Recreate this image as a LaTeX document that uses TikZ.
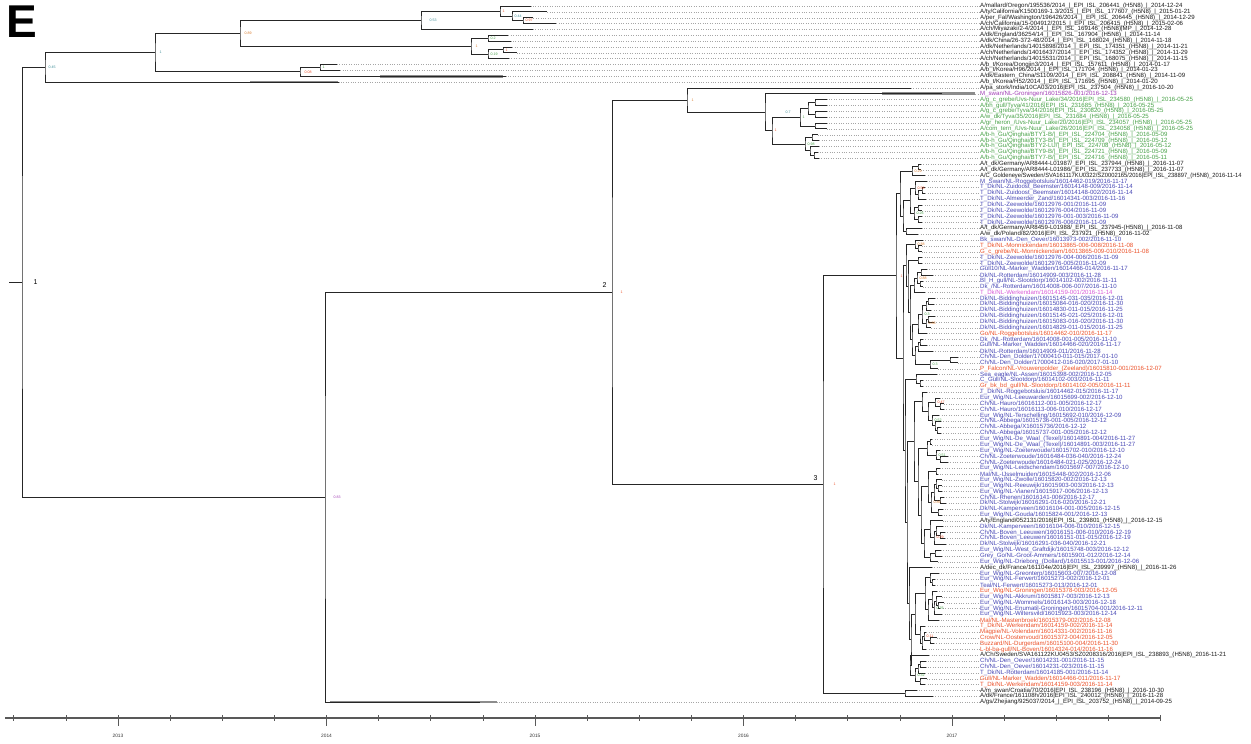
\documentclass[tikz,border=0pt]{standalone}
\usepackage{fontspec}
\usepackage{graphicx}
\setmainfont{Liberation Sans}
\usetikzlibrary{calc}
\definecolor{cblk}{RGB}{25,25,25}
\definecolor{cgrn}{RGB}{70,160,70}
\definecolor{cblu}{RGB}{70,70,180}
\definecolor{cred}{RGB}{235,80,40}
\definecolor{cmag}{RGB}{160,60,180}
\definecolor{cpnk}{RGB}{215,90,215}
\definecolor{cteal}{RGB}{60,140,150}
\definecolor{cora}{RGB}{215,120,40}
\newcommand\lfont{\fontsize{6.1}{6.5}\selectfont}
\newcommand\pfont{\fontsize{3.6}{4}\selectfont}
\tikzset{
  br/.style={line width=0.8pt, draw=black!85},
  lead/.style={line width=0.4pt, draw=black!35, dotted},
  lab/.style={anchor=west, font=\lfont, inner sep=0pt},
  pp/.style={font=\pfont, inner sep=0.4pt},
  hpd/.style={line width=2.6pt, draw=black!45},
  axisline/.style={line width=1.2pt, draw=black!65},
  tickline/.style={line width=0.6pt, draw=black!65},
}
\newcommand\lf[4]{%
  \coordinate (L#1) at (#2,{6+(#1-1)*5.85});
  \node[lab,text=#3] (T#1) at (980,{6+(#1-1)*5.85}) {#4};
  \draw[lead] (L#1) -- (T#1.west);
}
\newcommand\bn[4]{%
  \path let \p1=(#3), \p2=(#4) in ({#2pt},{0.5*(\y1+\y2)}) coordinate (#1);
  \draw[br] (#3) -| (#1) |- (#4);
}
\begin{document}
\begin{tikzpicture}[x=1pt,y=-1pt]
\useasboundingbox (0pt,0pt) rectangle (1251pt,-744pt);
\node[font=\fontsize{46}{46}\bfseries\selectfont, inner sep=0pt] (E) at (22,22) {E};
% leaves
\lf{1}{530.5}{cblk}{A/mallard/Oregon/195536/2014\_|\_EPI\_ISL\_206441\_(H5N8)\_|\_2014-12-24}
\lf{2}{547.1}{cblk}{A/ty/California/K1500169-1.3/2015\_|\_EPI\_ISL\_177607\_(H5N8)\_|\_2015-01-21}
\lf{3}{533.4}{cblk}{A/per\_Fal/Washington/196426/2014\_|\_EPI\_ISL\_206445\_(H5N8)\_|\_2014-12-29}
\lf{4}{556.1}{cblk}{A/ch/California/15-004912/2015\_|\_EPI\_ISL\_206415\_(H5N8)\_|\_2015-02-06}
\lf{5}{532.8}{cblk}{A/ch/Miyazaki/2-4/2014\_|\_EPI\_ISL\_169146\_(H5N8)|MP\_|\_2014-12-28}
\lf{6}{508.3}{cblk}{A/dk/England/36254/14\_|\_EPI\_ISL\_167904\_(H5N8)\_|\_2014-11-14}
\lf{7}{510.6}{cblk}{A/dk/China/26-372-48/2014\_|\_EPI\_ISL\_168024\_(H5N8)\_|\_2014-11-18}
\lf{8}{512.3}{cblk}{A/dk/Netherlands/14015898/2014\_|\_EPI\_ISL\_174351\_(H5N8)\_|\_2014-11-21}
\lf{9}{516.9}{cblk}{A/ch/Netherlands/14016437/2014\_|\_EPI\_ISL\_174352\_(H5N8)\_|\_2014-11-29}
\lf{10}{508.9}{cblk}{A/ch/Netherlands/14015531/2014\_|\_EPI\_ISL\_168075\_(H5N8)\_|\_2014-11-15}
\lf{11}{336.8}{cblk}{A/b\_t/Korea/Dongjin3/2014\_|\_EPI\_ISL\_157611\_(H5N8)\_|\_2014-01-17}
\lf{12}{340.1}{cblk}{A/b\_t/Korea/H96/2014\_|\_EPI\_ISL\_171704\_(H5N8)\_|\_2014-01-23}
\lf{13}{505.6}{cblk}{A/dk/Eastern\_China/S1109/2014\_|\_EPI\_ISL\_208841\_(H5N8)\_|\_2014-11-09}
\lf{14}{338.5}{cblk}{A/b\_t/Korea/H52/2014\_|\_EPI\_ISL\_171695\_(H5N8)\_|\_2014-01-20}
\lf{15}{910.9}{cblk}{A/pa\_stork/India/10CA03/2016|EPI\_ISL\_237504\_(H5N8)\_|\_2016-10-20}
\lf{16}{941.5}{cmag}{M\_swan/NL-Groningen/16015826-001/2016-12-13}
\lf{17}{826.6}{cgrn}{A/g\_c\_grebe/Uvs-Nuur\_Lake/34/2016|EPI\_ISL\_234580\_(H5N8)\_|\_2016-05-25}
\lf{18}{826.6}{cgrn}{A/bh\_gull/Tyva/41/2016|EPI\_ISL\_231685\_(H5N8)\_|\_2016-05-25}
\lf{19}{826.6}{cgrn}{A/g\_c\_grebe/Tyva/34/2016|EPI\_ISL\_230820\_(H5N8)\_|\_2016-05-25}
\lf{20}{826.6}{cgrn}{A/w\_dk/Tyva/35/2016|EPI\_ISL\_231684\_(H5N8)\_|\_2016-05-25}
\lf{21}{826.6}{cgrn}{A/gr\_heron\_/Uvs-Nuur\_Lake/20/2016|EPI\_ISL\_234057\_(H5N8)\_|\_2016-05-25}
\lf{22}{826.6}{cgrn}{A/com\_tern\_/Uvs-Nuur\_Lake/26/2016|EPI\_ISL\_234058\_(H5N8)\_|\_2016-05-25}
\lf{23}{817.5}{cgrn}{A/b-h\_Gu/Qinghai/BTY1-B/|\_EPI\_ISL\_224704\_(H5N8)\_|\_2016-05-09}
\lf{24}{819.2}{cgrn}{A/b-h\_Gu/Qinghai/BTY3-B/|\_EPI\_ISL\_224709\_(H5N8)\_|\_2016-05-12}
\lf{25}{819.2}{cgrn}{A/b-h\_Gu/Qinghai/BTY2-LU/|\_EPI\_ISL\_224708\_(H5N8)\_|\_2016-05-12}
\lf{26}{817.5}{cgrn}{A/b-h\_Gu/Qinghai/BTY9-B/|\_EPI\_ISL\_224721\_(H5N8)\_|\_2016-05-09}
\lf{27}{818.7}{cgrn}{A/b-h\_Gu/Qinghai/BTY7-B/|\_EPI\_ISL\_224716\_(H5N8)\_|\_2016-05-11}
\lf{28}{921.0}{cblk}{A/t\_dk/Germany/AR8444-L01987/\_EPI\_ISL\_237944\_(H5N8)\_|\_2016-11-07}
\lf{29}{921.0}{cblk}{A/t\_dk/Germany/AR8444-L01986/\_EPI\_ISL\_237733\_(H5N8)\_|\_2016-11-07}
\lf{30}{925.1}{cblk}{\scalebox{0.95}[1]{A/C\_Goldeneye/Sweden/SVA161117KU0322/SZ0002165/2016|EPI\_ISL\_238897\_(H5N8)\_2016-11-14}}
\lf{31}{926.8}{cblu}{M\_Swan/NL-Roggebotsluis/16014462-019/2016-11-17}
\lf{32}{925.1}{cblu}{T\_Dk/NL-Zuidoost\_Beemster/16014148-009/2016-11-14}
\lf{33}{925.1}{cblu}{T\_Dk/NL-Zuidoost\_Beemster/16014148-002/2016-11-14}
\lf{34}{926.2}{cblu}{T\_Dk/NL-Almeerder\_Zand/16014341-003/2016-11-16}
\lf{35}{922.2}{cblu}{T\_Dk/NL-Zeewolde/16012976-001/2016-11-09}
\lf{36}{922.2}{cblu}{T\_Dk/NL-Zeewolde/16012976-004/2016-11-09}
\lf{37}{922.2}{cblu}{T\_Dk/NL-Zeewolde/16012976-001-003/2016-11-09}
\lf{38}{922.2}{cblu}{T\_Dk/NL-Zeewolde/16012976-006/2016-11-09}
\lf{39}{921.6}{cblk}{A/t\_dk/Germany/AR8459-L01988/\_EPI\_ISL\_237945-(H5N8)\_|\_2016-11-08}
\lf{40}{918.3}{cblk}{A/w\_dk/Poland/82/2016|EPI\_ISL\_237921\_(H5N8)\_2016-11-02}
\lf{41}{922.8}{cblu}{Bk\_swan/NL-Den\_Oever/16013973-002/2016-11-10}
\lf{42}{921.6}{cred}{T\_Dk/NL-Monnickendam/16013865-006-008/2016-11-08}
\lf{43}{921.6}{cred}{G\_c\_grebe/NL-Monnickendam/16013865-009-010/2016-11-08}
\lf{44}{922.2}{cblu}{T\_Dk/NL-Zeewolde/16012976-004-006/2016-11-09}
\lf{45}{922.2}{cblu}{T\_Dk/NL-Zeewolde/16012976-005/2016-11-09}
\lf{46}{926.8}{cblu}{Gull10/NL-Marker\_Wadden/16014466-014/2016-11-17}
\lf{47}{933.0}{cblu}{Dk/NL-Rotterdam/16014909-003/2016-11-28}
\lf{48}{923.3}{cblu}{Bl\_H\_gull/NL-Slootdorp/16014102-002/2016-11-11}
\lf{49}{922.8}{cblu}{Dk\_/NL-Rotterdam/16014008-006-007/2016-11-10}
\lf{50}{925.1}{cpnk}{T\_Dk/NL-Werkendam/16014159-001/2016-11-14}
\lf{51}{934.7}{cblu}{Dk/NL-Biddinghuizen/16015145-031-035/2016-12-01}
\lf{52}{934.0}{cblu}{Dk/NL-Biddinghuizen/16015084-016-020/2016-11-30}
\lf{53}{931.4}{cblu}{Dk/NL-Biddinghuizen/16014830-011-015/2016-11-25}
\lf{54}{934.7}{cblu}{Dk/NL-Biddinghuizen/16015145-021-025/2016-12-01}
\lf{55}{934.0}{cblu}{Dk/NL-Biddinghuizen/16015083-016-020/2016-11-30}
\lf{56}{931.4}{cblu}{Dk/NL-Biddinghuizen/16014829-011-015/2016-11-25}
\lf{57}{926.8}{cred}{Go/NL-Roggebotsluis/16014462-010/2016-11-17}
\lf{58}{922.8}{cblu}{Dk\_/NL-Rotterdam/16014008-001-005/2016-11-10}
\lf{59}{926.8}{cblu}{Gull/NL-Marker\_Wadden/16014466-020/2016-11-17}
\lf{60}{933.0}{cblu}{Dk/NL-Rotterdam/16014909-011/2016-11-28}
\lf{61}{957.6}{cblu}{Ch/NL-Den\_Dolder/17000410-011-015/2017-01-10}
\lf{62}{957.6}{cblu}{Ch/NL-Den\_Dolder/17000412-016-020/2017-01-10}
\lf{63}{938.0}{cred}{P\_Falcon/NL-Vrouwenpolder\_(Zeeland)/16015810-001/2016-12-07}
\lf{64}{937.0}{cblu}{Sea\_eagle/NL-Assen/16015398-002/2016-12-05}
\lf{65}{923.3}{cblu}{C\_Gull/NL-Slootdorp/16014102-003/2016-11-11}
\lf{66}{923.3}{cred}{Gr\_bk\_bd\_gull/NL-Slootdorp/16014102-005/2016-11-11}
\lf{67}{926.8}{cblu}{T\_Dk/NL-Roggebotsluis/16014462-015/2016-11-17}
\lf{68}{939.8}{cblu}{Eur\_Wig/NL-Leeuwarden/16015699-002/2016-12-10}
\lf{69}{943.8}{cblu}{Ch/NL-Hauro/16016112-001-005/2016-12-17}
\lf{70}{943.8}{cblu}{Ch/NL-Hauro/16016113-006-010/2016-12-17}
\lf{71}{939.2}{cblu}{Eur\_Wig/NL-Terschelling/16015692-010/2016-12-09}
\lf{72}{940.9}{cblu}{Ch/NL-Abbega/16015736-001-005/2016-12-12}
\lf{73}{940.9}{cblu}{Ch/NL-Abbega/X16015736/2016-12-12}
\lf{74}{940.9}{cblu}{Ch/NL-Abbega/16015737-001-005/2016-12-12}
\lf{75}{932.4}{cblu}{Eur\_Wig/NL-De\_Waal\_(Texel)/16014891-004/2016-11-27}
\lf{76}{932.4}{cblu}{Eur\_Wig/NL-De\_Waal\_(Texel)/16014891-003/2016-11-27}
\lf{77}{939.8}{cblu}{Eur\_Wig/NL-Zoeterwoude/16015702-010/2016-12-10}
\lf{78}{947.8}{cblu}{Ch/NL-Zoeterwoude/16016484-036-040/2016-12-24}
\lf{79}{947.8}{cblu}{Ch/NL-Zoeterwoude/16016484-021-025/2016-12-24}
\lf{80}{939.8}{cblu}{Eur\_Wig/NL-Leidschendam/16015697-007/2016-12-10}
\lf{81}{937.6}{cblu}{Mal/NL-IJsselmuiden/16015448-002/2016-12-06}
\lf{82}{941.5}{cblu}{Eur\_Wig/NL-Zwolle/16015820-002/2016-12-13}
\lf{83}{941.5}{cblu}{Eur\_Wig/NL-Reeuwijk/16015903-003/2016-12-13}
\lf{84}{941.5}{cblu}{Eur\_Wig/NL-Vianen/16015917-006/2016-12-13}
\lf{85}{943.8}{cblu}{Ch/NL-Rhenen/16016141-006/2016-12-17}
\lf{86}{946.1}{cblu}{Dk/NL-Stolwijk/16016291-016-020/2016-12-21}
\lf{87}{942.5}{cblu}{Dk/NL-Kamperveen/16016104-001-005/2016-12-15}
\lf{88}{941.5}{cblu}{Eur\_Wig/NL-Gouda/16015824-001/2016-12-13}
\lf{89}{942.5}{cblk}{A/ty/England/052131/2016|EPI\_ISL\_239801\_(H5N8)\_|\_2016-12-15}
\lf{90}{942.5}{cblu}{Dk/NL-Kamperveen/16016104-006-010/2016-12-15}
\lf{91}{944.9}{cblu}{Ch/NL-Boven\_Leeuwen/16016151-006-010/2016-12-19}
\lf{92}{944.9}{cblu}{Ch/NL-Boven\_Leeuwen/16016151-011-015/2016-12-19}
\lf{93}{946.1}{cblu}{Dk/NL-Stolwijk/16016291-036-040/2016-12-21}
\lf{94}{940.9}{cblu}{Eur\_Wig/NL-West\_Graftdijk/16015748-003/2016-12-12}
\lf{95}{942.1}{cblu}{Grey\_Go/NL-Groot-Ammers/16015901-012/2016-12-14}
\lf{96}{937.6}{cblu}{Eur\_Wig/NL-Drieborg\_(Dollard)/16015513-001/2016-12-06}
\lf{97}{931.8}{cblk}{A/dec\_dk/France/161104e/2016|EPI\_ISL\_239997\_(H5N8)\_|\_2016-11-26}
\lf{98}{938.6}{cblu}{Eur\_Wig/NL-Greonterp/16015603-007/2016-12-08}
\lf{99}{934.7}{cblu}{Eur\_Wig/NL-Ferwert/16015273-002/2016-12-01}
\lf{100}{934.7}{cblu}{Teal/NL-Ferwert/16015273-013/2016-12-01}
\lf{101}{937.0}{cred}{Eur\_Wig/NL-Groningen/16015378-003/2016-12-05}
\lf{102}{941.5}{cblu}{Eur\_Wig/NL-Akkrum/16015817-003/2016-12-13}
\lf{103}{944.2}{cblu}{Eur\_Wig/NL-Wommels/16016143-003/2016-12-18}
\lf{104}{940.3}{cblu}{Eur\_Wig/NL-Enumatil-Groningen/16015704-001/2016-12-11}
\lf{105}{942.1}{cblu}{Eur\_Wig/NL-Wiltersvild/16015923-003/2016-12-14}
\lf{106}{938.6}{cred}{Mal/NL-Mastenbroek/16015379-002/2016-12-08}
\lf{107}{925.1}{cred}{T\_Dk/NL-Werkendam/16014159-002/2016-11-14}
\lf{108}{926.2}{cred}{Magpie/NL-Volendam/16014331-002/2016-11-16}
\lf{109}{937.0}{cred}{Crow/NL-Oostenvoud/16015372-004/2016-12-05}
\lf{110}{934.0}{cred}{Buzzard/NL-Durgerdam/16015100-004/2016-11-30}
\lf{111}{926.2}{cred}{L-bl-ba-gull/NL-Boven/16014324-014/2016-11-16}
\lf{112}{929.1}{cblk}{A/Ch/Sweden/SVA161122KU0453/SZ0208316/2016|EPI\_ISL\_238893\_(H5N8)\_2016-11-21}
\lf{113}{925.6}{cblu}{Ch/NL-Den\_Oever/16014231-001/2016-11-15}
\lf{114}{925.6}{cblu}{Ch/NL-Den\_Oever/16014231-023/2016-11-15}
\lf{115}{925.1}{cblu}{T\_Dk/NL-Rotterdam/16014185-001/2016-11-14}
\lf{116}{926.8}{cred}{Gull/NL-Marker\_Wadden/16014466-011/2016-11-17}
\lf{117}{925.1}{cred}{T\_Dk/NL-Werkendam/16014159-003/2016-11-14}
\lf{118}{916.6}{cblk}{A/m\_swan/Croatia/70/2016|EPI\_ISL\_238196\_(H5N8)\_|\_2016-10-30}
\lf{119}{933.0}{cblk}{A/dk/France/161108h/2016|EPI\_ISL\_240012\_(H5N8)\_|\_2016-11-28}
\lf{120}{479.7}{cblk}{A/gs/Zhejiang/925037/2014\_|\_EPI\_ISL\_203752\_(H5N8)\_|\_2014-09-25}
% uncertainty bars
\draw[hpd] (330,{6+119*5.85}) -- (497,{6+119*5.85});
\draw[hpd] (380,{6+12*5.85}) -- (503,{6+12*5.85});
\draw[hpd] (250,{6+13*5.85}) -- (338,{6+13*5.85});
\draw[hpd] (882,{6+15*5.85}) -- (975,{6+15*5.85});
% top clade
\bn{nA3}{523}{L3}{L4}
\bn{nA2}{512}{L2}{nA3}
\bn{nA1}{500}{L1}{nA2}
\bn{nA}{421}{nA1}{L5}
\bn{nE1}{488}{L6}{L7}
\bn{nE3}{503}{L8}{L9}
\bn{nE2}{488}{nE3}{L10}
\bn{nE}{471}{nE1}{nE2}
\bn{nAE}{240}{nA}{nE}
\bn{nK1}{320}{L11}{L12}
\bn{nK2}{300}{nK1}{L13}
\bn{nX}{155}{nAE}{nK2}
\bn{nT}{45}{nX}{L14}
% green clade
\bn{Ga1}{815}{L17}{L18}
\bn{Ga2}{815}{L19}{L20}
\bn{Ga3}{808}{Ga1}{Ga2}
\bn{Ga4}{815}{L21}{L22}
\bn{Ga}{800}{Ga3}{Ga4}
\bn{Gb1}{812}{L23}{L24}
\bn{Gb2}{814}{L26}{L27}
\bn{Gb3}{810}{L25}{Gb2}
\bn{Gb}{805}{Gb1}{Gb3}
\bn{Ggr}{772}{Ga}{Gb}
\bn{nH}{765}{L16}{Ggr}
\bn{nG}{687}{L15}{nH}
% German / Zeewolde clade
\bn{d1}{918}{L28}{L29}
\bn{d2}{912}{d1}{L30}
\bn{d3}{922}{L32}{L33}
\bn{d4}{918}{d3}{L34}
\bn{d5}{915}{L31}{d4}
\bn{d6}{918}{L35}{L36}
\bn{d7}{918}{L37}{L38}
\bn{d8}{914}{d6}{d7}
\bn{d9}{910}{d5}{d8}
\bn{dY}{906}{L39}{L40}
\bn{dX}{903}{d9}{dY}
\bn{nDE}{900}{d2}{dX}
% NL clade
\bn{a1}{918}{L42}{L43}
\bn{s1}{915}{L41}{a1}
\bn{s2}{918}{L44}{L45}
\bn{b1}{921}{L46}{L47}
\bn{b2}{920}{L48}{L49}
\bn{b3}{917}{b1}{b2}
\bn{s3}{914}{b3}{L50}
\bn{c1}{928}{L51}{L52}
\bn{c2}{926}{c1}{L53}
\bn{c3}{928}{L54}{L55}
\bn{c4}{926}{c3}{L56}
\bn{c5}{922}{c2}{c4}
\bn{s4}{918}{c5}{L57}
\bn{e1}{920}{L58}{L59}
\bn{e2}{918}{e1}{L60}
\bn{e3}{950}{L61}{L62}
\bn{e4}{930}{e3}{L63}
\bn{s5}{915}{e2}{e4}
\bn{f1}{920}{L65}{L66}
\bn{s6}{916}{L64}{f1}
\bn{h1}{940}{L69}{L70}
\bn{h2}{935}{L68}{h1}
\bn{h3}{937}{L73}{L74}
\bn{h4}{935}{L72}{h3}
\bn{h5}{932}{L71}{h4}
\bn{h6}{928}{h2}{h5}
\bn{h7}{922}{L67}{h6}
\bn{i1}{930}{L75}{L76}
\bn{i2}{940}{L78}{L79}
\bn{i3}{936}{L77}{i2}
\bn{i4}{927}{i1}{i3}
\bn{j1}{936}{L80}{L81}
\bn{j2}{938}{L83}{L84}
\bn{j3}{936}{L82}{j2}
\bn{j4}{940}{L85}{L86}
\bn{j5}{934}{j3}{j4}
\bn{j6}{938}{L87}{L88}
\bn{j7}{931}{j5}{j6}
\bn{j8}{928}{j1}{j7}
\bn{k1}{940}{L91}{L92}
\bn{k2}{936}{L90}{k1}
\bn{k3}{934}{k2}{L93}
\bn{k4}{930}{L89}{k3}
\bn{l1}{935}{L94}{L95}
\bn{l2}{930}{l1}{L96}
\bn{m1}{924}{k4}{l2}
\bn{m2}{921}{j8}{m1}
\bn{m3}{918}{i4}{m2}
\bn{s7}{914}{h7}{m3}
\bn{p1}{932}{L99}{L100}
\bn{p2}{930}{L98}{p1}
\bn{p3}{938}{L103}{L104}
\bn{p4}{936}{L102}{p3}
\bn{p5}{934}{p4}{L105}
\bn{p6}{932}{L101}{p5}
\bn{p7}{928}{p6}{L106}
\bn{p8}{925}{p2}{p7}
\bn{q1}{930}{L109}{L110}
\bn{q2}{924}{L108}{q1}
\bn{q3}{922}{q2}{L111}
\bn{q4}{920}{L107}{q3}
\bn{s9}{915}{p8}{q4}
\bn{r1}{920}{L113}{L114}
\bn{r2}{918}{r1}{L115}
\bn{r3}{920}{L116}{L117}
\bn{r4}{915}{r2}{r3}
\bn{s10}{910}{L112}{r4}
\bn{A4}{912}{s4}{s5}
\bn{A3}{910}{s3}{A4}
\bn{A2}{908}{s2}{A3}
\bn{UA}{906}{s1}{A2}
\bn{B4}{911}{s9}{s10}
\bn{B3}{909}{L97}{B4}
\bn{B2}{907}{s7}{B3}
\bn{UB}{905}{s6}{B2}
\bn{nNL}{903}{UA}{UB}
\bn{nU}{896}{nDE}{nNL}
\bn{nCF}{905}{L118}{L119}
\bn{n3}{823}{nU}{nCF}
\bn{n2}{612}{nG}{n3}
\bn{nB}{325}{n2}{L120}
\bn{root}{22}{nT}{nB}
\draw[br] (root) -- ++(-13pt,0);
% clade numbers
\node[font=\fontsize{7}{8}\selectfont, anchor=west] (c1lab) at ([xshift=8pt]root) {1};
\node[font=\fontsize{7}{8}\selectfont, anchor=south east] (c2lab) at ([xshift=-2pt,yshift=1pt]n2) {2};
\node[font=\fontsize{7}{8}\selectfont, anchor=south east] (c3lab) at ([xshift=-2pt,yshift=1pt]n3) {3};
% posterior values
\node[pp,text=cteal,anchor=west] at ([xshift=3pt]nT) {0.45};
\node[pp,text=cteal,anchor=west] at ([xshift=8pt]nA) {0.53};
\node[pp,text=cred,anchor=west] at ([xshift=2pt]nA1) {1};
\node[pp,text=cteal,anchor=west] at ([xshift=2pt]nA2) {0.44};
\node[pp,text=cred,anchor=west] at ([xshift=2pt]nA3) {0.97};
\node[pp,text=cora,anchor=west] at ([xshift=4pt]nE) {1};
\node[pp,text=cgrn,anchor=west] at ([xshift=2pt]nE1) {0.2};
\node[pp,text=cgrn,anchor=west] at ([xshift=2pt]nE2) {0.19};
\node[pp,text=cred,anchor=west] at ([xshift=2pt]nE3) {1};
\node[pp,text=cora,anchor=west] at ([xshift=4pt]nAE) {0.89};
\node[pp,text=cteal,anchor=west] at ([xshift=4pt]nX) {1};
\node[pp,text=cgrn,anchor=west] at ([xshift=2pt]nK1) {1};
\node[pp,text=cred,anchor=west] at ([xshift=4pt]nK2) {0.08};
\node[pp,text=cmag,anchor=west] at ([xshift=8pt]nB) {0.83};
\node[pp,text=cred,anchor=west] at ([xshift=8pt]n2) {1};
\node[pp,text=cred,anchor=west] at ([xshift=10pt]n3) {1};
\node[pp,text=cred,anchor=west] at ([xshift=4pt]nU) {1};
\node[pp,text=cteal,anchor=west] at ([xshift=20pt]nH) {0.7};
\node[pp,text=cora,anchor=west] at ([xshift=4pt]nG) {1};
\node[pp,text=cred,anchor=west] at ([xshift=2pt]Ggr) {1};
\node[pp,text=cgrn,anchor=west] at ([xshift=2pt]Ga) {1};
\node[pp,text=cgrn,anchor=west] at ([xshift=2pt]Gb) {0.98};
\node[pp,text=cora,anchor=west] at ([xshift=2pt]d2) {0.29};
\node[pp,text=cred,anchor=west] at ([xshift=2pt]d5) {0.58};
\node[pp,text=cgrn,anchor=west] at ([xshift=2pt]d8) {0.26};
\node[pp,text=cora,anchor=west] at ([xshift=2pt]s1) {0.88};
\node[pp,text=cora,anchor=west] at ([xshift=2pt]b3) {0.88};
\node[pp,text=cgrn,anchor=west] at ([xshift=2pt]c5) {0.3};
\node[pp,text=cora,anchor=west] at ([xshift=2pt]c4) {0.86};
\node[pp,text=cgrn,anchor=west] at ([xshift=2pt]e4) {0.3};
\node[pp,text=cgrn,anchor=west] at ([xshift=2pt]h5) {0.52};
\node[pp,text=cred,anchor=west] at ([xshift=2pt]h2) {0.47};
\node[pp,text=cgrn,anchor=west] at ([xshift=2pt]i3) {0.51};
\node[pp,text=cora,anchor=west] at ([xshift=2pt]j7) {0.86};
\node[pp,text=cred,anchor=west] at ([xshift=2pt]k3) {0.29};
\node[pp,text=cgrn,anchor=west] at ([xshift=2pt]p5) {0.76};
\node[pp,text=cred,anchor=west] at ([xshift=2pt]q2) {0.11};
\node[pp,text=cgrn,anchor=west] at ([xshift=2pt]r4) {0.32};
% time axis
\coordinate (ax0) at (5,718);
\coordinate (ax1) at (1160,718);
\draw[axisline] (ax0) -- (ax1);
\foreach \k in {-2,...,20} {\draw[tickline] ({118+52.125*\k},715) -- ({118+52.125*\k},721);}
\foreach \yr [count=\k from 0] in {2013,2014,2015,2016,2017} {
  \draw[tickline] ({118+208.5*\k},715) -- ({118+208.5*\k},726);
  \node[font=\fontsize{4.8}{5}\selectfont, text=black!80] at ({118+208.5*\k},736) {\yr};
}
\end{tikzpicture}
\end{document}
